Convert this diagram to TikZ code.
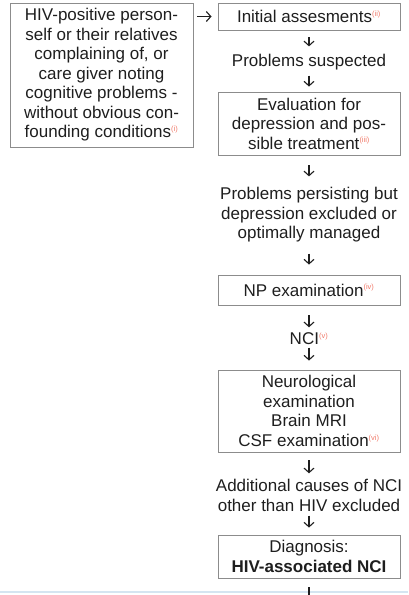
\documentclass[tikz,border=0pt]{standalone}
\usepackage{fontspec}
\setmainfont{Liberation Sans}
\usetikzlibrary{arrows.meta,positioning}
\definecolor{txt}{HTML}{1E1E1E}
\definecolor{frame}{HTML}{8C8C8C}
\definecolor{note}{HTML}{F07A6A}
\definecolor{pageline}{HTML}{D5E5F1}
\newcommand{\fn}[1]{\textsuperscript{\fontsize{7.5}{8}\selectfont\color{note}(#1)}}

\begin{document}
\begin{tikzpicture}[node distance=3cm,on grid,
  every node/.style={font=\fontsize{17}{19.5}\selectfont,text=txt,align=center},
  box/.style={draw=frame,line width=0.9pt,minimum width=182pt,inner sep=2pt},
  plain/.style={inner sep=1pt},
  gap/.style 2 args={shorten <=#1,shorten >=#2},
  >={Straight Barb[length=4.5pt,width=10pt]}]
\useasboundingbox (0,0) rectangle (408pt,-595pt);
\node[box,minimum height=27pt] (q_0) at (309pt,-16.5pt) {Initial assesments\fn{ii}};
\node[box,minimum width=183pt,minimum height=144pt] (q_s) [below left=58.5pt and 207.5pt of q_0]
  {HIV-positive person-\\self or their relatives\\complaining of, or\\care giver noting\\cognitive problems -\\without obvious con-\\founding conditions\fn{i}};
\node[plain] (q_1) [below=46pt of q_0] {Problems suspected};
\node[box,minimum height=63pt] (q_2) [below=61pt of q_1] {Evaluation for\\depression and pos-\\sible treatment\fn{iii}};
\node[plain] (q_3) [below=91.5pt of q_2] {Problems persisting but\\depression excluded or\\optimally managed};
\node[box,minimum height=30pt] (q_4) [below=75pt of q_3] {NP examination\fn{iv}};
\node[plain] (q_5) [below=48.5pt of q_4] {NCI\fn{v}};
\node[box,minimum height=82pt] (q_6) [below=72.5pt of q_5] {Neurological\\examination\\Brain MRI\\CSF examination\fn{vi}};
\node[plain] (q_7) [below=84.5pt of q_6] {Additional causes of NCI\\other than HIV excluded};
\node[box,minimum height=43pt] (q_8) [below=61pt of q_7] {Diagnosis:\\\textbf{HIV-associated NCI}};
\coordinate[below=38.5pt of q_8] (q_e);
\coordinate (b_l) at (0,-592pt);
\coordinate (b_r) at (408pt,-592pt);
\draw[pageline,line width=1.5pt] (b_l) -- (b_r);
\path[->,txt,line width=1.1pt]
(q_s.east |- q_0) edge[gap={4pt}{6pt}] (q_0.west)
(q_0) edge[gap={7pt}{7pt}] (q_1)
(q_1) edge[gap={4pt}{5pt}] (q_2)
(q_2) edge[gap={10pt}{10pt}] (q_3)
(q_3) edge[gap={10pt}{10pt}] (q_4)
(q_4) edge[gap={10pt}{4pt}] (q_5)
(q_5) edge[gap={2pt}{9pt}] (q_6)
(q_6) edge[gap={8pt}{5pt}] (q_7)
(q_7) edge[gap={3pt}{7pt}] (q_8);
\draw[txt,line width=1.1pt,shorten <=9pt] (q_8) -- (q_e);
\end{tikzpicture}
\end{document}
